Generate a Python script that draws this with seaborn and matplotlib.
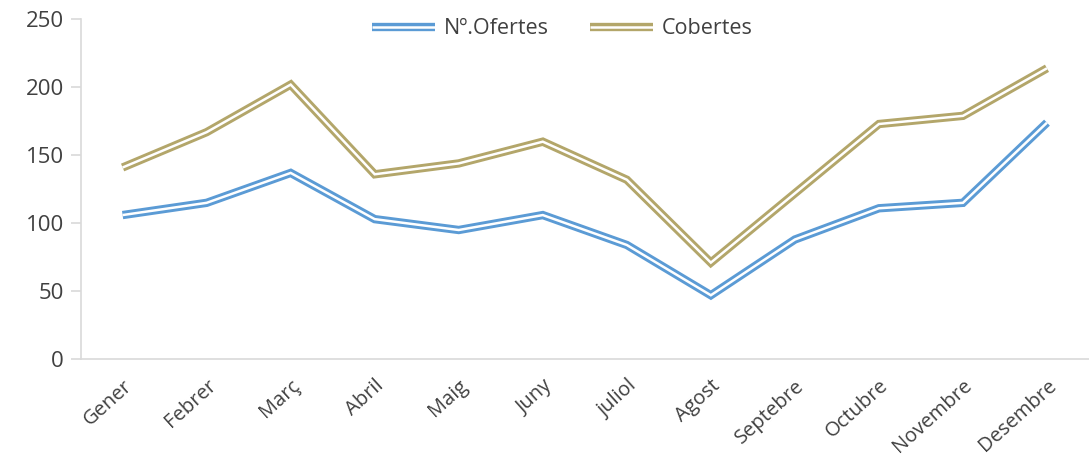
import matplotlib
matplotlib.use("Agg")
import matplotlib.pyplot as plt
import matplotlib.patheffects as pe
from matplotlib.lines import Line2D
import seaborn as sns
import pandas as pd
import numpy as np

months = ["Gener", "Febrer", "Març", "Abril", "Maig", "Juny", "juliol",
          "Agost", "Septebre", "Octubre", "Novembre", "Desembre"]
ofertes = [106, 115, 137, 103, 95, 106, 84, 47, 88, 111, 115, 174]
cobertes = [141, 167, 202, 136, 144, 160, 132, 71, 122, 173, 179, 214]
series_names = ["Nº.Ofertes", "Cobertes"]
colors = ["#5B9BD5", "#B3A66A"]

df = pd.DataFrame({
    "mes": months * 2,
    "x": list(range(len(months))) * 2,
    "valor": ofertes + cobertes,
    "serie": [series_names[0]] * len(months) + [series_names[1]] * len(months),
})

sns.set_theme(style="white")
plt.rcParams["font.family"] = ["Open Sans", "DejaVu Sans"]

fig = plt.figure(figsize=(10.89, 4.61), dpi=100)
ax = fig.add_axes([0.074, 0.221, 0.926, 0.737])

sns.lineplot(data=df, x="x", y="valor", hue="serie", palette=colors,
             hue_order=series_names, ax=ax, linewidth=1.6, legend=False)


def double(c):
    return [pe.Stroke(linewidth=6.0, foreground=c, capstyle="butt", joinstyle="miter"),
            pe.Stroke(linewidth=1.8, foreground="white", capstyle="butt", joinstyle="miter")]


for line, c in zip(ax.lines, colors):
    line.set_color("white")
    line.set_path_effects(double(c))

ax.set_xlim(-0.5, len(months) - 0.5)
ax.set_ylim(0, 250)
ax.set_yticks(np.arange(0, 251, 50))
ax.set_xticks(range(len(months)))
ax.set_xticklabels(months, rotation=42, ha="right", va="top", rotation_mode="anchor",
                   fontsize=14.5, color="#404040")
ax.set_xticks(np.arange(-0.5, len(months), 1.0), minor=True)
ax.tick_params(axis="x", which="major", length=0, pad=12)
ax.tick_params(axis="x", which="minor", length=6, color="#d9d9d9", width=1.2)
ax.tick_params(axis="y", length=7, color="#d9d9d9", width=1.2, labelsize=16,
               labelcolor="#404040", pad=5, left=True)
ax.set_xlabel("")
ax.set_ylabel("")
for s in ["top", "right"]:
    ax.spines[s].set_visible(False)
for s in ["left", "bottom"]:
    ax.spines[s].set_color("#d9d9d9")
    ax.spines[s].set_linewidth(1.2)

handles = []
for c in colors:
    h = Line2D([0], [0], color="white", linewidth=1.6)
    h.set_path_effects(double(c))
    handles.append(h)
leg = ax.legend(handles, series_names, loc="upper center", bbox_to_anchor=(0.478, 1.06),
                ncol=2, frameon=False, fontsize=15.5, handlelength=2.9, columnspacing=1.9,
                handletextpad=0.45)
for t in leg.get_texts():
    t.set_color("#404040")

fig.savefig("out.png", dpi=100)
